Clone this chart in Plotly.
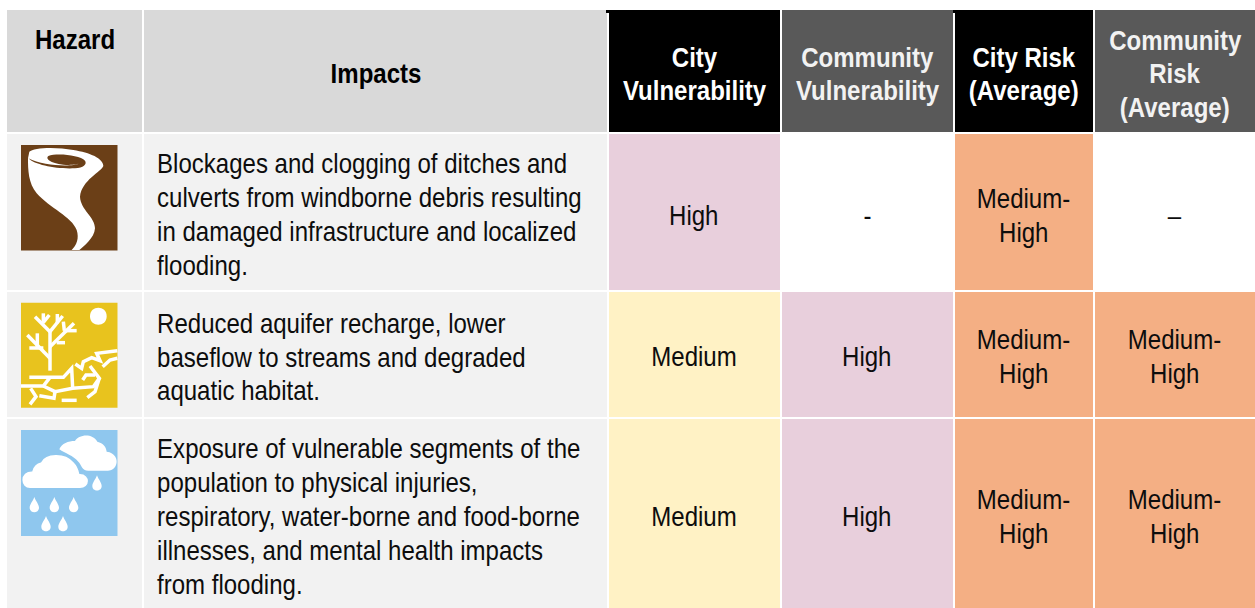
import re
import plotly.graph_objects as go

# ---- table content ----
headers = [["Hazard"], ["Impacts"], ["City", "Vulnerability"], ["Community", "Vulnerability"],
           ["City Risk", "(Average)"], ["Community", "Risk", "(Average)"]]
impacts = [
    ["Blockages and clogging of ditches and", "culverts from windborne debris resulting",
     "in damaged infrastructure and localized", "flooding."],
    ["Reduced aquifer recharge, lower", "baseflow to streams and degraded", "aquatic habitat."],
    ["Exposure of vulnerable segments of the", "population to physical injuries,",
     "respiratory, water-borne and food-borne", "illnesses, and mental health impacts", "from flooding."],
]
city_vulnerability = ["High", "Medium", "Medium"]
community_vulnerability = ["-", "High", "High"]
city_risk = ["Medium-High", "Medium-High", "Medium-High"]
community_risk = ["–", "Medium-High", "Medium-High"]

# ---- layout / style ----
W, H = 1255, 608
col_l = [7, 144, 609, 782, 955, 1095]
col_r = [142, 607, 780, 953, 1093, 1255]
row_t = [134, 292, 419]
row_b = [290, 417, 608]
head_t, head_b = 10, 132
head_fill = ["#D9D9D9", "#D9D9D9", "#000000", "#595959", "#000000", "#595959"]
head_color = ["#000000", "#000000", "#FFFFFF", "#F2F2F2", "#FFFFFF", "#F2F2F2"]
head_y = [[39.5], [74], [58, 91], [58, 91], [58, 91], [41, 74, 108]]
line_y = [[164, 197.5, 231.5, 265.5], [324, 357.5, 390.5], [448.5, 482.5, 516.5, 550.5, 584.5]]
level_y = [215.5, 357, 517]
level_fill = {"High": "#E8CFDC", "Medium": "#FFF2C5", "Medium-High": "#F4AF84", "-": "#FFFFFF", "–": "#FFFFFF"}
FONT = "Liberation Sans"
BODY, HEAD = 27, 27
X_SCALE = 0.89
INK = "#0D0D0D"

shapes, ann = [], []

def rect(x0, y0, x1, y1, fill):
    shapes.append(dict(type="rect", x0=x0, y0=y0, x1=x1, y1=y1, fillcolor=fill, line_width=0, layer="below"))

def text(x, y, s, color=INK, size=BODY, bold=False, anchor="center"):
    ann.append(dict(x=x, y=y, text=f"<b>{s}</b>" if bold else s, showarrow=False, xanchor=anchor, yanchor="middle",
                    font=dict(family=FONT, size=size, color=color)))

def P(ox, oy, d):
    """Convert a path drawn in 3x zoomed coordinates to page pixels."""
    it = iter(range(10**6))
    def f(m):
        v = float(m.group())
        return f"{(v/3 + (ox if next(it) % 2 == 0 else oy)):.2f}"
    return re.sub(r"\d+(\.\d+)?", f, d)

def path(ox, oy, d, fill="white", line=None, width=0):
    sh = dict(type="path", path=P(ox, oy, d), layer="above")
    if fill:
        sh["fillcolor"] = fill
    sh["line"] = dict(color=line or "rgba(0,0,0,0)", width=width)
    shapes.append(sh)

# header
for i, lines in enumerate(headers):
    rect(col_l[i], head_t, col_r[i], head_b, head_fill[i])
    cx = (col_l[i] + col_r[i]) / 2
    for s, y in zip(lines, head_y[i]):
        text(cx, y, s, color=head_color[i], size=HEAD, bold=True)
rect(606, 10, 780, 13, "#000000")
rect(953, 10, 1093, 13, "#000000")

# body
for r in range(3):
    rect(col_l[0], row_t[r], col_r[0], row_b[r], "#F2F2F2")
    rect(col_l[1], row_t[r], col_r[1], row_b[r], "#F2F2F2")
    for s, y in zip(impacts[r], line_y[r]):
        text(155, y, s, anchor="left")
    cy = level_y[r]
    for c, series in zip(range(2, 6), [city_vulnerability, community_vulnerability, city_risk, community_risk]):
        v = series[r]
        rect(col_l[c], row_t[r], col_r[c], row_b[r], level_fill[v])
        cx = (col_l[c] + col_r[c]) / 2 - 0.5
        if v == "Medium-High":
            text(cx, cy - 17, "Medium-")
            text(cx, cy + 17, "High")
        else:
            text(cx, cy, v)

# tornado icon
rect(21, 145, 117.5, 250.5, "#6B3F17")
ox, oy = 0, 130
path(ox, oy, "M88,65 C100,52 170,50 220,60 C270,68 310,85 310,108 C305,125 245,150 240,200 "
             "C242,240 285,260 285,295 C283,325 250,350 238,360 L215,360 C230,345 238,325 230,300 "
             "C215,260 150,235 110,190 C85,160 84,120 84,85 Z")
path(ox, oy, "M85,85 C105,105 170,118 225,115 C250,113 262,103 255,92 C240,75 170,68 145,78 C135,85 150,100 190,104 "
             "C215,106 235,103 240,100 C215,112 130,108 85,85 Z", fill="#6B3F17")

# drought icon
rect(21, 302.7, 117.5, 407.7, "#E8C31E")
ox, oy = 0, 290
path(ox, oy, "M270,79 C270,45 320,45 320,79 C320,113 270,113 270,79 Z")
tree = ["M150,242 L150,122", "M105,80 L150,125", "M130,70 L130,100", "M148,75 L130,97", "M172,72 L172,100",
        "M188,78 L150,125", "M190,95 L193,122", "M230,122 L190,122", "M222,100 L150,170", "M195,158 L170,158",
        "M82,135 L150,205", "M112,130 L112,172", "M88,174 L130,174",
        "M88,262 L190,262 L215,235 L218,295", "M63,288 L130,288 L150,262",
        "M130,288 L165,305 L218,295 L280,290 L298,265 L270,228",
        "M92,295 L108,320 L90,343", "M118,317 L162,325 L165,305", "M185,331 L230,331",
        "M298,265 L285,305 L262,323", "M248,270 L258,255 L285,255",
        "M226,222 L245,235 L250,215 L275,203 L300,212 L290,190 L352,182", "M308,230 L330,210 L352,205"]
for d in tree:
    path(ox, oy, d, fill=None, line="white", width=3.5)

# rain icon
rect(21, 430, 117.5, 536, "#8FC7EE")
ox, oy = 0, 415
path(ox, oy, "M178,103 C185,85 205,78 225,78 C235,60 275,52 292,80 C310,85 318,95 320,110 C345,112 355,135 348,150 "
             "C342,165 330,167 320,167 L265,167 C245,167 245,150 235,140 C220,122 195,115 178,103 Z")
path(ox, oy, "M65,195 C65,178 78,167 95,167 C100,150 110,142 122,140 C135,112 195,108 222,140 C232,150 238,165 240,175 "
             "C258,175 266,188 266,198 C266,212 255,221 240,221 L90,221 C75,221 65,210 65,195 Z", line="#8FC7EE", width=1.5)
for cx, cy in [(103, 270), (163, 270), (221, 270), (138, 327), (189, 327), (291, 205)]:
    path(ox, oy, f"M{cx},{cy-24} C{cx+4},{cy-12} {cx+14},{cy-2} {cx+14},{cy+8} C{cx+14},{cy+26} {cx-14},{cy+26} {cx-14},{cy+8} "
                 f"C{cx-14},{cy-2} {cx-4},{cy-12} {cx},{cy-24} Z")

fig = go.Figure()
fig.update_layout(
    width=W, height=H, margin=dict(l=0, r=0, t=0, b=0), paper_bgcolor="white", plot_bgcolor="white",
    xaxis=dict(range=[0, W], visible=False, fixedrange=True),
    yaxis=dict(range=[H, 0], visible=False, fixedrange=True),
    shapes=shapes, annotations=ann, showlegend=False,
)

# The reference type is slightly condensed: narrow each annotation's glyphs about its own anchor.
post = """
document.body.style.margin='0';
var gd = document.getElementById('{plot_id}');
function condense() {
  gd.querySelectorAll('text.annotation-text').forEach(function (t) {
    var b = t.getBBox();
    var isBody = IMPACT.indexOf(t.textContent) >= 0;
    var ax = isBody ? b.x : b.x + b.width / 2;
    t.setAttribute('transform', 'translate(' + ax + ',0) scale(SCALE,1) translate(' + (-ax) + ',0)');
  });
}
condense();
if (gd.on) gd.on('plotly_afterplot', condense);
setTimeout(condense, 50);
""".replace("SCALE", str(X_SCALE)).replace("IMPACT", repr([s for row in impacts for s in row]))
fig.write_html("out.html", config={"displayModeBar": False}, post_script=post)
